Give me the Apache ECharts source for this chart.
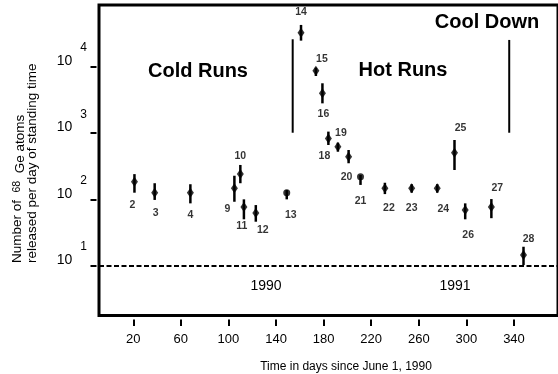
<!DOCTYPE html>
<html>
<head>
<meta charset="utf-8">
<script src="https://cdn.jsdelivr.net/npm/echarts@6/dist/echarts.min.js"></script>
<style>
html,body{margin:0;padding:0;background:#fff;}
#chart{width:558px;height:374px;}
</style>
</head>
<body>
<div id="chart"></div>
<script>
// ---- data ----
const runs   = [2, 3, 4, 9, 10, 11, 12, 13, 14, 15, 16, 18, 19, 20, 21, 22, 23, 24, 25, 26, 27, 28];
const days   = [21, 38, 68, 105, 110, 113, 123, 149, 161, 173.5, 179, 184, 192, 201, 211, 231.5, 254, 275.5, 290, 299, 321, 348];
const rate   = [185, 126, 126, 147, 241, 77, 62, 126, 32600, 8700, 3970, 830, 620, 440, 220, 147, 147, 147, 506, 69, 77, 14.5];
const errHi  = [240, 175, 169, 227, 330, 100, 82, 138, 42600, 9660, 5620, 1050, 715, 555, 233, 178, 169, 169, 785, 87, 101, 19.3];
const errLo  = [126, 98, 87, 92, 175, 50, 46, 100, 24700, 7240, 2800, 660, 523, 350, 165, 120, 126, 126, 277, 50, 52, 10.2];
const phaseDays = [154, 336];
const phaseLo   = [1010, 1010];
const phaseHi   = [25900, 25300];
const baseline  = 10;
const xTicks = [20, 60, 100, 140, 180, 220, 260, 300, 340];
const yTicks = [10, 100, 1000, 10000];

// ---- label offsets (style) ----
const labelOffsets = {
  2:[-2,23], 3:[1,20], 4:[0,22], 9:[-7,21], 10:[0,-18], 11:[-2,19], 12:[7,17], 13:[4,22],
  14:[0,-21], 15:[6,-12], 16:[1,21], 18:[-4,18], 19:[3,-14], 20:[-2,20], 21:[0,24],
  22:[4,20], 23:[0,20], 24:[6,21], 25:[6,-25], 26:[3,25], 27:[6,-19], 28:[5,-16]
};
const roundMarkers = {13:true, 21:true};

const chart = echarts.init(document.getElementById('chart'), null, {renderer:'canvas'});
const FONT = 'Liberation Sans, Arial, Helvetica, sans-serif';

const pointData = runs.map((r, i) => ({
  value: [days[i], rate[i]],
  symbol: roundMarkers[r] ? 'circle' : 'diamond',
  symbolSize: roundMarkers[r] ? [7, 7] : [7, 10],
  label: {offset: labelOffsets[r] || [0, 20]}
}));
const errData = runs.map((r, i) => [days[i], errLo[i], errHi[i]]);
const phaseData = phaseDays.map((d, i) => [d, phaseLo[i], phaseHi[i]]);

function vbar(width) {
  return function (params, api) {
    const p1 = api.coord([api.value(0), api.value(1)]);
    const p2 = api.coord([api.value(0), api.value(2)]);
    return {
      type: 'line',
      shape: {x1: p1[0], y1: p1[1], x2: p2[0], y2: p2[1]},
      style: {stroke: '#000', lineWidth: width}
    };
  };
}

const option = {
  backgroundColor: '#fff',
  animation: false,
  grid: {left: 99, right: 0, top: 5, bottom: 58.5, show: true, borderColor: '#000', borderWidth: 3, backgroundColor: '#fff'},
  xAxis: {
    type: 'value', min: -8.8, max: 377, offset: 4,
    splitLine: {show: false},
    axisLine: {show: false, onZero: false},
    axisTick: {show: true, inside: false, customValues: xTicks, length: 6.5, lineStyle: {color: '#000', width: 2}},
    axisLabel: {customValues: xTicks, color: '#000', fontFamily: FONT, fontSize: 13, margin: 13}
  },
  yAxis: {
    type: 'log', logBase: 10, min: 1.774, max: 85100, offset: 2.5, position: 'left',
    splitLine: {show: false},
    axisLine: {show: false, onZero: false},
    axisTick: {show: true, inside: false, customValues: yTicks, length: 6, lineStyle: {color: '#000', width: 2}},
    axisLabel: {
      customValues: yTicks, margin: 9.5, color: '#000', fontFamily: FONT,
      padding: [0, 0, 23, 0],
      formatter: function (v) { return '{b|10}{s|' + Math.round(Math.log10(v)) + '}'; },
      rich: {
        b: {fontSize: 14, fontFamily: FONT, color: '#000', lineHeight: 26, verticalAlign: 'bottom'},
        s: {fontSize: 12, fontFamily: FONT, color: '#000', lineHeight: 26, padding: [0, 0, 0, 8], verticalAlign: 'top'}
      }
    }
  },
  series: [
    {
      type: 'custom', name: 'phase', renderItem: vbar(2), data: phaseData,
      encode: {x: 0, y: [1, 2]}, z: 2
    },
    {
      type: 'custom', name: 'err', renderItem: vbar(2.5), data: errData,
      encode: {x: 0, y: [1, 2]}, z: 3
    },
    {
      type: 'scatter', name: 'runs', data: pointData, z: 4,
      itemStyle: {color: '#000'},
      label: {
        show: true, position: 'inside', color: '#000', fontFamily: FONT, fontSize: 10.5, fontWeight: 'bold',
        formatter: function (p) { return String(runs[p.dataIndex]); }
      },
      markLine: {
        silent: true, symbol: 'none', label: {show: false},
        lineStyle: {color: '#000', width: 2, type: [5, 2.5]},
        data: [{yAxis: baseline}]
      }
    }
  ],
  graphic: [
    {type: 'text', x: 198, y: 71, style: {text: 'Cold Runs', font: 'bold 20px ' + FONT, fill: '#000', align: 'center', verticalAlign: 'middle'}},
    {type: 'text', x: 403, y: 70, style: {text: 'Hot Runs', font: 'bold 20px ' + FONT, fill: '#000', align: 'center', verticalAlign: 'middle'}},
    {type: 'text', x: 487, y: 22, style: {text: 'Cool Down', font: 'bold 20px ' + FONT, fill: '#000', align: 'center', verticalAlign: 'middle'}},
    {type: 'text', x: 266, y: 286, style: {text: '1990', font: '14px ' + FONT, fill: '#000', align: 'center', verticalAlign: 'middle'}},
    {type: 'text', x: 455, y: 286, style: {text: '1991', font: '14px ' + FONT, fill: '#000', align: 'center', verticalAlign: 'middle'}},
    {type: 'text', x: 346, y: 367, style: {text: 'Time in days since June 1, 1990', font: '12px ' + FONT, fill: '#000', align: 'center', verticalAlign: 'middle'}},
    {type: 'text', x: 17, y: 263, rotation: Math.PI / 2, style: {
      text: '{a|Number of  }{s|68}{g|  Ge atoms}', align: 'left', verticalAlign: 'middle',
      rich: {
        a: {fontSize: 13.5, fontFamily: FONT, fill: '#000', lineHeight: 20, verticalAlign: 'middle'},
        s: {fontSize: 10.5, fontFamily: FONT, fill: '#000', lineHeight: 20, verticalAlign: 'middle'},
        g: {fontSize: 13.5, fontFamily: FONT, fill: '#000', lineHeight: 20, verticalAlign: 'bottom'}
      }
    }},
    {type: 'text', x: 32, y: 263, rotation: Math.PI / 2, style: {text: 'released per day of standing time', font: '13.5px ' + FONT, fill: '#000', align: 'left', verticalAlign: 'middle'}}
  ]
};
chart.setOption(option);
</script>
</body>
</html>
